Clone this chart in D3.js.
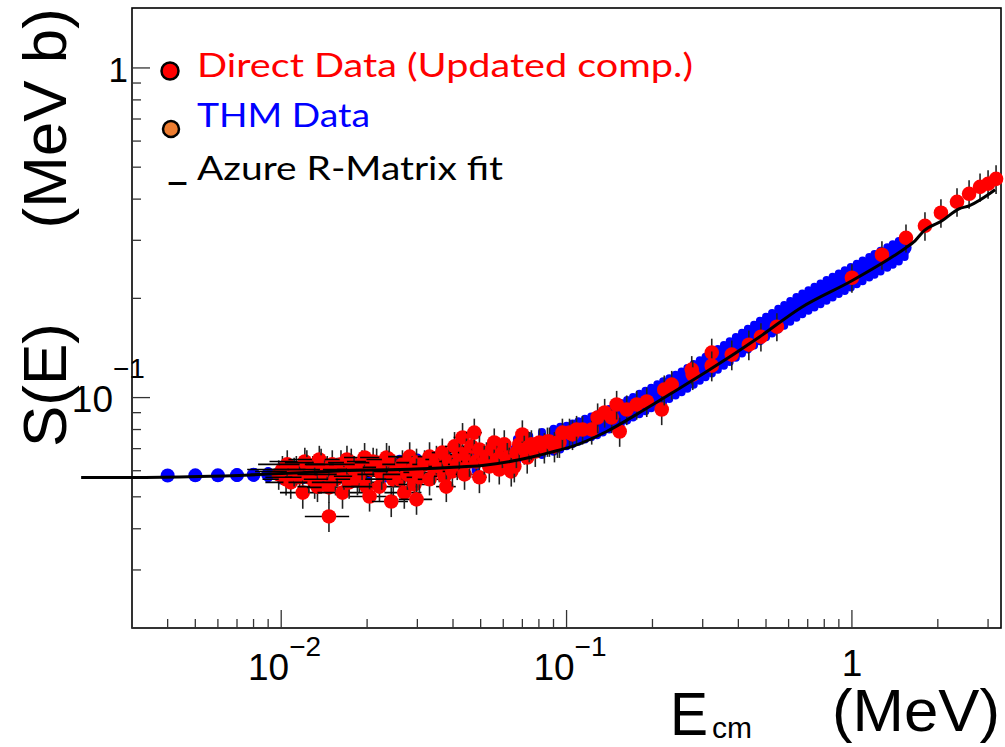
<!DOCTYPE html>
<html>
<head>
<meta charset="utf-8">
<script src="https://cdn.jsdelivr.net/npm/d3@7"></script>
<style>
  body { margin: 0; background: #fff; }
  svg { display: block; }
</style>
</head>
<body>
<script>
// axis ranges (MeV, MeV b)
const xDomain = [0.003, 3.33];
const yDomain = [0.02, 1.52];

// THM data [E, S, dS]
const thmData = [
  [0.004,0.0580,0.001],[0.005,0.0581,0.001],[0.006,0.0581,0.001],[0.007,0.0582,0.0012],
  [0.008,0.0583,0.0012],[0.009,0.0584,0.0015],
  [0.010,0.0590,0.003],[0.011,0.0591,0.003],[0.012,0.0592,0.003],[0.013,0.0594,0.003],
  [0.014,0.0595,0.003],[0.016,0.0598,0.0035],[0.018,0.0600,0.0035],[0.020,0.0603,0.0035],
  [0.023,0.0607,0.004],[0.026,0.0612,0.004],[0.030,0.0618,0.004],[0.034,0.0625,0.0045],
  [0.038,0.0632,0.0045],[0.043,0.0641,0.0045],[0.048,0.0651,0.005],[0.054,0.0664,0.005],
  [0.060,0.0678,0.005],[0.067,0.0694,0.0055],[0.074,0.0710,0.0055],[0.082,0.0728,0.0058],
  [0.090,0.0745,0.006],[0.095,0.0756,0.006],
  [0.100,0.0767,0.0055],[0.105,0.0779,0.0056],[0.110,0.0791,0.0057],[0.116,0.0804,0.0058],
  [0.122,0.0817,0.0059],[0.128,0.0829,0.0060],[0.134,0.0844,0.0061],[0.141,0.0862,0.0062],
  [0.148,0.0881,0.0063],[0.155,0.0898,0.0065],[0.163,0.0918,0.0066],[0.171,0.0937,0.0067],
  [0.180,0.0959,0.0069],[0.189,0.0979,0.0070],[0.198,0.1000,0.0072],[0.208,0.1023,0.0074],
  [0.218,0.1045,0.0075],[0.229,0.1068,0.0077],[0.241,0.1093,0.0079],[0.253,0.1119,0.0081],
  [0.265,0.1147,0.0083],[0.279,0.1179,0.0085],[0.293,0.1211,0.0087],[0.307,0.1241,0.0089],
  [0.323,0.1276,0.0092],[0.339,0.1309,0.0094],[0.356,0.1346,0.0097],[0.373,0.1383,0.0100],
  [0.392,0.1424,0.0103],[0.412,0.1466,0.0106],[0.432,0.1508,0.0109],[0.454,0.1552,0.0112],
  [0.476,0.1596,0.0115],[0.500,0.1641,0.0118],[0.525,0.1686,0.0121],[0.552,0.1734,0.0125],
  [0.579,0.1781,0.0128],[0.608,0.1830,0.0132],[0.639,0.1883,0.0136],[0.670,0.1930,0.0139],
  [0.704,0.1976,0.0142],[0.739,0.2022,0.0146],[0.776,0.2070,0.0149],[0.815,0.2119,0.0153],
  [0.856,0.2169,0.0156],[0.899,0.2220,0.0160],[0.944,0.2271,0.0164],[0.991,0.2324,0.0167],
  [1.04,0.2377,0.0171],[1.09,0.2430,0.0175],[1.15,0.2491,0.0179],[1.20,0.2541,0.0183],
  [1.26,0.2601,0.0187],[1.33,0.2667,0.0192],[1.39,0.2723,0.0196],[1.46,0.2787,0.0200],
  [1.53,0.2848,0.0180]
];

// Direct data [E, S, dE, dS]
const directData = [
  [0.0098,0.0585,0.0020,0.006],[0.0101,0.0605,0.0025,0.006],[0.0104,0.0565,0.0018,0.006],
  [0.0105,0.0627,0.0022,0.0065],[0.0108,0.0553,0.0020,0.006],[0.0111,0.0597,0.0030,0.006],
  [0.0113,0.0605,0.0024,0.006],[0.0116,0.0573,0.0028,0.006],[0.0119,0.0515,0.0020,0.0055],
  [0.0121,0.0640,0.0030,0.0065],[0.0123,0.0627,0.0025,0.0065],[0.0125,0.0573,0.0022,0.006],
  [0.0129,0.0605,0.0035,0.006],[0.0131,0.0553,0.0025,0.006],[0.0134,0.0537,0.0020,0.0055],
  [0.0136,0.0649,0.0030,0.0065],[0.0138,0.0635,0.0035,0.0065],[0.0142,0.0585,0.0028,0.006],
  [0.0145,0.0605,0.0040,0.006],[0.0147,0.0534,0.0024,0.0055],[0.0147,0.0436,0.0026,0.0045],
  [0.0151,0.0627,0.0030,0.0065],[0.0155,0.0565,0.0035,0.006],[0.0157,0.0597,0.0025,0.006],
  [0.0162,0.0627,0.0040,0.0065],[0.0164,0.0515,0.0030,0.0055],[0.0166,0.0585,0.0035,0.006],
  [0.0170,0.0649,0.0028,0.0065],[0.0173,0.0553,0.0045,0.006],[0.0176,0.0635,0.0030,0.0065],
  [0.0180,0.0605,0.0040,0.006],[0.0185,0.0565,0.0030,0.006],[0.0188,0.0577,0.0035,0.006],
  [0.0192,0.0627,0.0045,0.0065],[0.0196,0.0658,0.0030,0.007],[0.0199,0.0537,0.0035,0.0055],
  [0.0204,0.0501,0.0030,0.005],[0.0207,0.0605,0.0050,0.006],[0.0210,0.0640,0.0040,0.0065],
  [0.0216,0.0635,0.0035,0.0065],[0.0221,0.0537,0.0045,0.0055],[0.0225,0.0585,0.0040,0.006],
  [0.0228,0.0614,0.0035,0.0065],[0.0234,0.0658,0.0045,0.007],[0.0239,0.0649,0.0040,0.0065],
  [0.0243,0.0484,0.0035,0.005],[0.0247,0.0565,0.0050,0.006],[0.0251,0.0597,0.0040,0.006],
  [0.0260,0.0565,0.0045,0.006],[0.0266,0.0627,0.0040,0.0065],[0.0270,0.0515,0.0040,0.0055],
  [0.0277,0.0585,0.0050,0.006],[0.0282,0.0662,0.0045,0.007],[0.0288,0.0605,0.0040,0.006],
  [0.0293,0.0545,0.0035,0.0055],[0.0298,0.0491,0.0040,0.005],[0.0298,0.0635,0.0045,0.0065],
  [0.0298,0.0593,0.0030,0.006],
  [0.0305,0.0573,0.003,0.006],[0.0318,0.0627,0.003,0.0065],[0.0331,0.0662,0.003,0.007],
  [0.0331,0.0565,0.003,0.006],[0.0344,0.0605,0.003,0.006],[0.0350,0.0649,0.003,0.0065],
  [0.0358,0.0618,0.003,0.0065],[0.0367,0.0681,0.003,0.007],[0.0373,0.0577,0.003,0.006],
  [0.0379,0.0537,0.003,0.0055],[0.0388,0.0640,0.003,0.0065],[0.0398,0.0597,0.003,0.006],
  [0.0405,0.0711,0.003,0.0075],[0.0414,0.0627,0.003,0.0065],[0.0421,0.0672,0.003,0.007],
  [0.0432,0.0757,0.003,0.008],[0.0439,0.0585,0.003,0.006],[0.0446,0.0681,0.003,0.007],
  [0.0457,0.0640,0.003,0.0065],[0.0464,0.0711,0.003,0.0075],[0.0475,0.0783,0.003,0.008],
  [0.0483,0.0640,0.003,0.0065],[0.0495,0.0573,0.003,0.006],[0.0495,0.0696,0.003,0.007],
  [0.0515,0.0649,0.003,0.0065],[0.0524,0.0662,0.003,0.007],[0.0536,0.0618,0.003,0.0065],
  [0.0549,0.0696,0.003,0.007],[0.0558,0.0731,0.003,0.0075],
  [0.0572,0.0649,0,0.0065],[0.0581,0.0605,0,0.006],[0.0596,0.0681,0,0.007],
  [0.0605,0.0721,0,0.0075],[0.0620,0.0658,0,0.007],[0.0630,0.0640,0,0.0065],
  [0.0640,0.0597,0,0.006],[0.0656,0.0618,0,0.0065],[0.0667,0.0681,0,0.007],
  [0.0683,0.0721,0,0.0075],[0.0700,0.0773,0,0.008],[0.0711,0.0696,0,0.007],
  [0.0728,0.0658,0,0.007],[0.0740,0.0711,0,0.0075],[0.0753,0.0721,0,0.0075],
  [0.0777,0.0686,0,0.007],[0.0803,0.0731,0,0.0075],[0.0836,0.0706,0,0.0075],
  [0.0857,0.0736,0,0.0075],[0.0871,0.0736,0,0.0075],[0.0907,0.0711,0,0.0075],
  [0.0929,0.0731,0,0.0075],[0.0944,0.0731,0,0.0075],[0.0967,0.0783,0,0.008],
  [0.1024,0.0783,0,0.008],[0.1049,0.0773,0,0.008],[0.1084,0.0800,0,0.008],
  [0.1138,0.0800,0,0.008],[0.1225,0.0800,0,0.008],[0.1285,0.0870,0,0.009],
  [0.1360,0.0901,0,0.009],[0.1439,0.0870,0,0.009],[0.1498,0.0953,0,0.0095],
  [0.1535,0.0789,0,0.008],[0.1625,0.0920,0,0.0095],[0.1762,0.0953,0,0.0095],
  [0.1910,0.0973,0,0.010],[0.2155,0.0920,0,0.0095],[0.2200,0.1057,0,0.011],
  [0.2336,0.1095,0,0.011],[0.2746,0.1216,0,0.012],[0.2768,0.1174,0,0.012],
  [0.3227,0.1369,0,0.014],[0.3227,0.1250,0,0.013],[0.3793,0.1350,0,0.014],
  [0.4353,0.1447,0,0.015],[0.4799,0.1530,0,0.015],[0.5458,0.1641,0,0.016],
  [1.000,0.2310,0,0.023],[1.274,0.2712,0,0.027],[1.547,0.3053,0,0.030],
  [1.803,0.3320,0,0.033],[2.051,0.3636,0,0.036],[2.335,0.3926,0,0.039],
  [2.574,0.4151,0,0.041],[2.812,0.4358,0,0.043],[3.000,0.4452,0,0.044],
  [3.200,0.4609,0,0.046]
];

// Azure R-Matrix fit [E, S]
const fitCurve = [
  [0.00199,0.0572],[0.00298,0.0572],[0.00516,0.0576],[0.01008,0.0588],[0.01732,0.0601],
  [0.02596,0.0605],[0.03883,0.0614],[0.0507,0.0622],[0.0742,0.0658],[0.0871,0.0681],
  [0.1049,0.0711],[0.1381,0.0789],[0.1804,0.0901],[0.2355,0.1036],[0.3099,0.1199],
  [0.4755,0.1530],[0.6626,0.1874],[1.000,0.2262],[1.404,0.2693],[1.547,0.2848],
  [1.664,0.2990],[1.789,0.3207],[2.069,0.3438],[2.373,0.3738],[2.573,0.3818],[3.176,0.4269]
];

const xTickLabels = [
  { v: 0.01, base: "10", exp: "\u22122" },
  { v: 0.1, base: "10", exp: "\u22121" },
  { v: 1, base: "1", exp: "" }
];
const yTickLabels = [
  { v: 1, base: "1", exp: "" },
  { v: 0.1, base: "10", exp: "\u22121" }
];

const legendLabels = ["Direct Data (Updated comp.)", "THM Data", "Azure R-Matrix fit"];
const legendColors = ["#ff0000", "#0000ff", "#000000"];

const W = 1005, H = 747;
const m = { l: 132, r: 4, t: 8, b: 119 };
const font = "'Liberation Sans', Arial, sans-serif";

const svg = d3.select("body").append("svg").attr("width", W).attr("height", H);

const x = d3.scaleLog().domain(xDomain).range([m.l, W - m.r]);
const y = d3.scaleLog().domain(yDomain).range([H - m.b, m.t]);

const isMajor = v => Math.abs(Math.log10(v) - Math.round(Math.log10(v))) < 1e-6;

// frame
svg.append("rect")
  .attr("x", m.l).attr("y", m.t)
  .attr("width", W - m.r - m.l).attr("height", H - m.b - m.t)
  .attr("fill", "none").attr("stroke", "#000").attr("stroke-width", 1.6);

// ticks
svg.append("g").selectAll("line")
  .data(x.ticks())
  .enter().append("line")
    .attr("x1", d => x(d)).attr("x2", d => x(d))
    .attr("y1", H - m.b).attr("y2", d => H - m.b - (isMajor(d) ? 18 : 9))
    .attr("stroke", "#333").attr("stroke-width", 1.3);
svg.append("g").selectAll("line")
  .data(y.ticks())
  .enter().append("line")
    .attr("y1", d => y(d)).attr("y2", d => y(d))
    .attr("x1", m.l).attr("x2", d => m.l + (isMajor(d) ? 18 : 9))
    .attr("stroke", "#333").attr("stroke-width", 1.3);

// tick labels
xTickLabels.forEach(t => {
  const px = x(t.v);
  if (t.exp) {
    svg.append("text").attr("x", px + 8).attr("y", 680).attr("text-anchor", "end")
      .attr("font-family", font).attr("font-size", 37).text(t.base);
    svg.append("text").attr("x", px + 8).attr("y", 656)
      .attr("font-family", font).attr("font-size", 28).text(t.exp);
  } else {
    svg.append("text").attr("x", px).attr("y", 676).attr("text-anchor", "middle")
      .attr("font-family", font).attr("font-size", 37).text(t.base);
  }
});
yTickLabels.forEach(t => {
  const py = y(t.v);
  if (t.exp) {
    svg.append("text").attr("x", 113).attr("y", py + 14).attr("text-anchor", "end")
      .attr("font-family", font).attr("font-size", 37).text(t.base);
    svg.append("text").attr("x", 113).attr("y", py - 20)
      .attr("font-family", font).attr("font-size", 28).text(t.exp);
  } else {
    svg.append("text").attr("x", 128).attr("y", py + 14).attr("text-anchor", "end")
      .attr("font-family", font).attr("font-size", 35).text(t.base);
  }
});

// THM points with thick blue error bars
const thm = svg.append("g").selectAll("g")
  .data(thmData)
  .enter().append("g");
thm.append("line")
  .attr("x1", d => x(d[0])).attr("x2", d => x(d[0]))
  .attr("y1", d => y(d[1] - d[2])).attr("y2", d => y(d[1] + d[2]))
  .attr("stroke", "#0000ff").attr("stroke-width", 8).attr("stroke-linecap", "round");
thm.append("circle")
  .attr("cx", d => x(d[0])).attr("cy", d => y(d[1]))
  .attr("r", 7).attr("fill", "#0000ff");

// direct data, error bars then marker
const pts = svg.append("g").selectAll("g")
  .data(directData)
  .enter().append("g");
pts.filter(d => d[2] > 0).append("line")
  .attr("x1", d => x(d[0] - d[2])).attr("x2", d => x(d[0] + d[2]))
  .attr("y1", d => y(d[1])).attr("y2", d => y(d[1]))
  .attr("stroke", "#000").attr("stroke-width", 1.6);
pts.append("line")
  .attr("x1", d => x(d[0])).attr("x2", d => x(d[0]))
  .attr("y1", d => y(d[1] - d[3])).attr("y2", d => y(d[1] + d[3]))
  .attr("stroke", "#222").attr("stroke-width", 1.6);
pts.append("circle")
  .attr("cx", d => x(d[0])).attr("cy", d => y(d[1]))
  .attr("r", 7.3).attr("fill", "#ff0000");

// fit curve (not clipped, runs past the left frame like the original)
const line = d3.line()
  .x(d => x(d[0])).y(d => y(d[1]))
  .curve(d3.curveMonotoneX);
svg.append("path").datum(fitCurve)
  .attr("d", line)
  .attr("fill", "none").attr("stroke", "#000").attr("stroke-width", 3);

// legend
const legFont = "Lato, 'Open Sans', sans-serif";
svg.append("circle").attr("cx", 170).attr("cy", 71).attr("r", 8.5)
  .attr("fill", "#ff0000").attr("stroke", "#000").attr("stroke-width", 2.5);
svg.append("circle").attr("cx", 171).attr("cy", 129).attr("r", 8)
  .attr("fill", "#ed7d31").attr("stroke", "#000").attr("stroke-width", 2.5);
svg.append("text").attr("x", 167).attr("y", 179)
  .attr("font-family", legFont).attr("font-size", 38).attr("font-weight", "bold")
  .attr("textLength", 21).attr("lengthAdjust", "spacingAndGlyphs").text("_");
const legY = [77, 127, 180];
const legW = [496, 173, 306];
legendLabels.forEach((s, i) => {
  svg.append("text").attr("x", 197).attr("y", legY[i])
    .attr("font-family", legFont).attr("font-size", 33)
    .attr("fill", legendColors[i])
    .attr("textLength", legW[i]).attr("lengthAdjust", "spacingAndGlyphs")
    .text(s);
});

// axis titles
svg.append("text").attr("transform", "translate(66,447) rotate(-90)")
  .attr("font-family", font).attr("font-size", 62).text("S(E)");
svg.append("text").attr("transform", "translate(66,8) rotate(-90)")
  .attr("text-anchor", "end")
  .attr("font-family", font).attr("font-size", 62).text("(MeV b)");
svg.append("text").attr("x", 670).attr("y", 735)
  .attr("font-family", font).attr("font-size", 62)
  .attr("textLength", 38).attr("lengthAdjust", "spacingAndGlyphs").text("E");
svg.append("text").attr("x", 712).attr("y", 738)
  .attr("font-family", font).attr("font-size", 30).text("cm");
svg.append("text").attr("x", 832).attr("y", 731)
  .attr("font-family", font).attr("font-size", 60)
  .attr("textLength", 168).attr("lengthAdjust", "spacingAndGlyphs").text("(MeV)");
</script>
</body>
</html>
